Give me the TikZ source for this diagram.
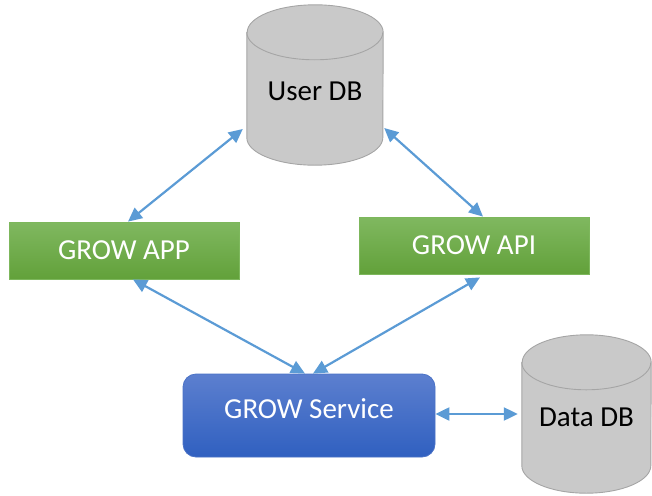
\documentclass[tikz,border=0pt]{standalone}
\usepackage{fontspec}
\setmainfont{Carlito}
\usetikzlibrary{arrows.meta,calc,backgrounds}

\definecolor{linkblue}{HTML}{5B9BD5}
\definecolor{greentop}{HTML}{80B860}
\definecolor{greenbot}{HTML}{62A13A}
\definecolor{greenedge}{HTML}{7DB75C}
\definecolor{bluetop}{HTML}{5C7FCF}
\definecolor{bluebot}{HTML}{3060C0}
\definecolor{blueedge}{HTML}{4A72C6}
\definecolor{dbgray}{HTML}{C9C9C9}
\definecolor{dbedge}{HTML}{A5A5A5}

\tikzset{
  bigtext/.style={font=\fontsize{29}{35}\selectfont},
  greenbox/.style={bigtext, rectangle, draw=greenedge, line width=0.8pt,
    top color=greentop, bottom color=greenbot, text=white,
    minimum width=230pt, minimum height=57pt, inner sep=0pt},
  bluebox/.style={bigtext, rectangle, rounded corners=13pt, draw=blueedge, line width=0.8pt,
    top color=bluetop, bottom color=bluebot, text=white,
    minimum width=252pt, minimum height=83pt, inner sep=0pt},
  dbnode/.style={bigtext, rectangle, inner sep=0pt, text=black},
  dbbody/.style={fill=dbgray},
  dbline/.style={draw=dbedge, line width=0.9pt},
  link/.style={draw=linkblue, line width=2.2pt,
    {Triangle[length=14pt,width=13pt]}-{Triangle[length=14pt,width=13pt]}}
}

% vertical cylinder behind a node: #1 node, #2 x radius, #3 y radius
\newcommand\cylinderbehind[3]{%
  \begin{pgfonlayer}{background}
    \path[dbbody,dbline]
      ($(#1.north west)+(0,#3)$) -- ($(#1.south west)+(0,-#3)$)
      arc[start angle=180,end angle=0,x radius=#2,y radius=#3]
      -- ($(#1.north east)+(0,#3)$)
      arc[start angle=0,end angle=-180,x radius=#2,y radius=#3] -- cycle;
    \draw[dbline] ($(#1.north west)+(0,#3)$)
      arc[start angle=180,end angle=0,x radius=#2,y radius=#3];
  \end{pgfonlayer}}

\begin{document}
\begin{tikzpicture}[x=1pt,y=-1pt]
\useasboundingbox (0,0) rectangle (652,495);

% databases
\node[dbnode, minimum width=136pt, minimum height=160pt, text height=31pt, text depth=0pt]
  (udb) at (315,85) {User DB};
\node[dbnode, minimum width=129pt, minimum height=158pt, text height=25pt, text depth=0pt]
  (ddb) at (586.5,414) {Data DB};
\cylinderbehind{udb}{68}{27.5}
\cylinderbehind{ddb}{64.5}{27.5}

% front ends
\node[greenbox] (app) at (124,250.5) {GROW APP};
\node[greenbox] (api) at (474,245.5) {GROW API};

% service
\node[bluebox, text depth=14pt] (svc) at (309,415.5) {GROW Service};

% connectors
\draw[link] ($(udb.west)+(-4,44)$) -- ($(app.north)+(4,0)$);
\draw[link] ($(udb.east)+(1,43)$) -- ($(api.north)+(9,0)$);
\draw[link] ($(app.south)+(9,0)$) -- ($(svc.north)+(-4,0)$);
\draw[link] ($(api.south)+(6,3)$) -- ($(svc.north)+(4,0)$);
\draw[link] ($(svc.east)+(0,-1.5)$) -- ($(ddb.west)+(-4,0)$);
\end{tikzpicture}
\end{document}
